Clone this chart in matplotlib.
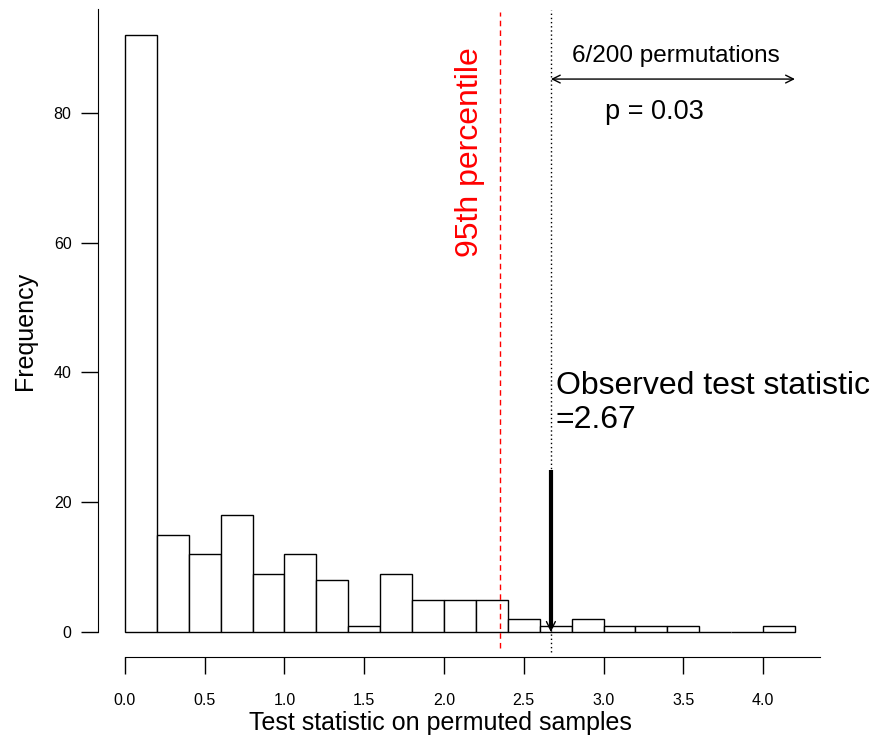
import matplotlib
matplotlib.use("Agg")
import matplotlib.pyplot as plt
import numpy as np

plt.rcParams['font.family'] = ['Liberation Sans', 'DejaVu Sans']

# histogram of the permuted test statistic (bin width 0.2)
bin_edges = np.round(np.arange(0, 4.21, 0.2), 2)
counts = [92, 15, 12, 18, 9, 12, 8, 1, 9, 5, 5, 5, 2, 1, 2, 1, 1, 1, 0, 0, 1]
x_ticks = [0.0, 0.5, 1.0, 1.5, 2.0, 2.5, 3.0, 3.5, 4.0]
y_ticks = [0, 20, 40, 60, 80]

observed = 2.67
pct95 = 2.35
n_extreme = 6
n_perm = 200
p_value = n_extreme / n_perm

fig = plt.figure(figsize=(8.73, 7.38), dpi=100)
W, H = 873, 738
ax = fig.add_axes([98 / W, (H - 657) / H, (820 - 98) / W, (657 - 8) / H])
ax.set_xlim(-0.169, 4.357)
ax.set_ylim(-3.85, 96.15)

ax.bar(bin_edges[:-1], counts, width=0.2, align='edge',
       facecolor='white', edgecolor='black', linewidth=1.0)

# R-style detached axes
for s in ['top', 'right']:
    ax.spines[s].set_visible(False)
ax.spines['left'].set_bounds(0, 96)
ax.spines['bottom'].set_bounds(0, 4.357)
ax.set_xticks(x_ticks)
ax.set_xticklabels([f"{v:.1f}" for v in x_ticks])
ax.set_yticks(y_ticks)
ax.tick_params(axis='both', length=12, width=1.0, labelsize=11.5)
ax.tick_params(axis='x', pad=14)
ax.tick_params(axis='y', pad=7)

fig.text(440 / W, 1 - 723 / H, "Test statistic on permuted samples",
         fontsize=18, ha='center', va='center')
fig.text(25 / W, 1 - 331 / H, "Frequency", fontsize=18, rotation=90,
         ha='center', va='center')

# 95th percentile line
ax.plot([pct95, pct95], [-2.5, 95.5], color='red', linestyle=(0, (4, 3)),
        linewidth=1.0, clip_on=False)
ax.text(pct95 - 0.187, 74, "95th percentile", color='red', rotation=90,
        fontsize=23, ha='center', va='center')

# observed statistic
ax.plot([observed, observed], [-3.1, 95.8], color='black', linestyle=(0, (1, 2)),
        linewidth=1.0, clip_on=False)
ax.plot([observed, observed], [0.6, 25], color='black', linewidth=3.0,
        solid_capstyle='butt')
ax.annotate("", xy=(observed, 0), xytext=(observed, 3),
            arrowprops=dict(arrowstyle='->', lw=1.0, color='black',
                            mutation_scale=16, shrinkA=0, shrinkB=0))
ax.text(2.70, 37.9, "Observed test statistic", fontsize=23,
        ha='left', va='center')
ax.text(2.70, 32.7, f"={observed}", fontsize=23, ha='left', va='center')

ax.annotate("", xy=(observed, 85.2), xytext=(4.2, 85.2),
            arrowprops=dict(arrowstyle='<->', lw=1.0, color='black',
                            mutation_scale=14, shrinkA=0, shrinkB=0))
ax.text(3.455, 88.7, f"{n_extreme}/{n_perm} permutations", fontsize=17.5,
        ha='center', va='center')
ax.text(3.32, 80.1, f"p = {p_value:.2f}", fontsize=19.5, ha='center', va='center')

fig.savefig("out.png", dpi=100)
